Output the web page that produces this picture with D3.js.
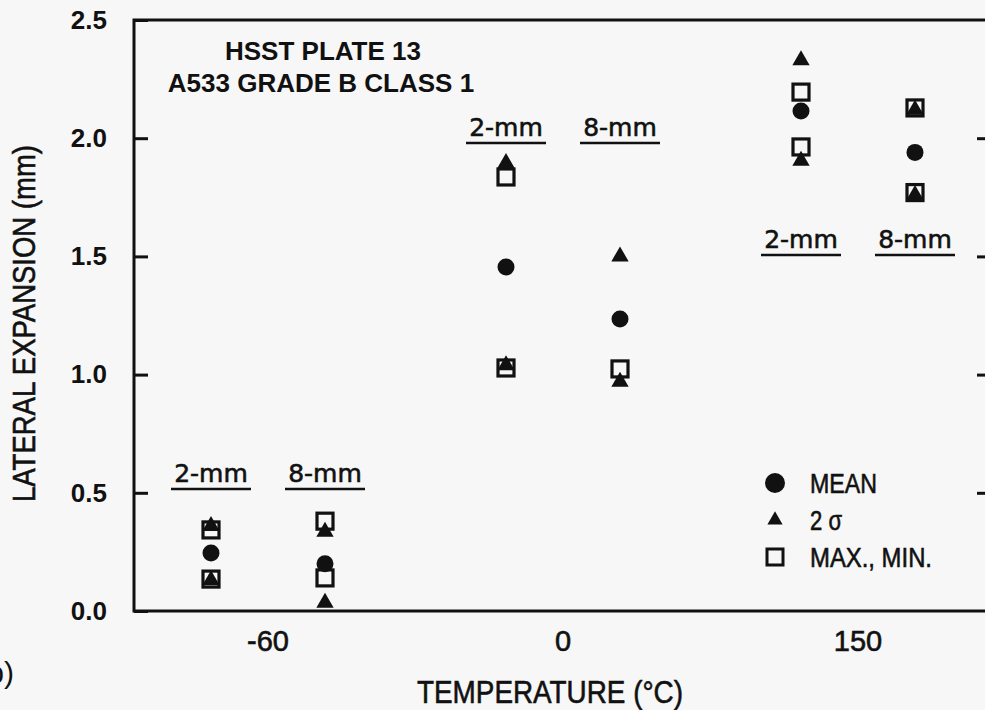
<!DOCTYPE html>
<html>
<head>
<meta charset="utf-8">
<script src="https://cdn.jsdelivr.net/npm/d3@7"></script>
<style>
  body { margin: 0; background: #f7f7f7; }
  svg { display: block; }
  text { fill: #111; }
  .narrow { font-family: "Liberation Sans Narrow", "Arial Narrow", "Liberation Sans", sans-serif; }
  .helv { font-family: "Liberation Sans", Arial, sans-serif; }
  .notch { font-family: "DejaVu Sans", sans-serif; font-size: 25px; }
  .heavy { stroke: #111; stroke-width: 0.6px; }
</style>
</head>
<body>
<svg id="chart" width="985" height="710"></svg>
<script>
const temps = ['-60', '0', '150'];
const notches = ['2-mm', '8-mm'];
// one pair per temperature: [2-mm, 8-mm]
const meanVals = [[0.245, 0.20], [1.455, 1.235], [2.115, 1.94]];
const sigmaHigh = [[0.36, 0.335], [1.895, 1.50], [2.33, 2.12]];
const sigmaLow = [[0.13, 0.035], [1.04, 0.97], [1.905, 1.76]];
const maxVals = [[0.343, 0.38], [1.836, null], [2.195, 2.128]];
const minVals = [[0.135, 0.14], [1.028, 1.024], [1.963, 1.77]];
// height (mm) of the underlined 2-mm / 8-mm captions
const captionLevel = [0.516, 1.98, 1.506];
const yTicks = [0, 0.5, 1.0, 1.5, 2.0, 2.5];
const legendItems = ['MEAN', '2 σ', 'MAX., MIN.'];

const svg = d3.select('#chart');

const plotL = 134, plotT = 20, plotB = 611, plotR = 991;

const y = d3.scaleLinear()
  .domain([0, 2.5])
  .range([plotB, plotT]);

const x = d3.scaleBand()
  .domain(temps)
  .range([120.5, 1005.5])
  .paddingInner(0);

const xi = d3.scalePoint()
  .domain(notches)
  .range([-57, 57]);

const px = (t, n) => x(t) + x.bandwidth() / 2 + xi(n);

// flatten the arrays into points
function toPoints(arr) {
  const out = [];
  temps.forEach((t, i) => notches.forEach((n, j) => {
    if (arr[i][j] != null) out.push({ t: t, n: n, v: arr[i][j] });
  }));
  return out;
}

// frame
svg.append('rect')
  .attr('x', plotL).attr('y', plotT)
  .attr('width', plotR - plotL).attr('height', plotB - plotT)
  .attr('fill', 'none')
  .attr('stroke', '#111')
  .attr('stroke-width', 3);

// left axis, ticks inward
const yAxis = svg.append('g')
  .attr('transform', `translate(${plotL},0)`)
  .call(d3.axisLeft(y).tickValues(yTicks).tickSize(-14).tickPadding(27).tickFormat(d3.format('.1f')));
yAxis.select('.domain').remove();
yAxis.selectAll('line').attr('stroke', '#111').attr('stroke-width', 3);
yAxis.selectAll('text')
  .attr('class', 'helv')
  .style('font-size', '26px')
  .style('font-weight', 'bold')
  .attr('fill', '#111');

// right axis, ticks only
const yAxisR = svg.append('g')
  .attr('transform', `translate(${plotR},0)`)
  .call(d3.axisRight(y).tickValues([0.5, 1.0, 1.5, 2.0]).tickSize(-14).tickFormat(''));
yAxisR.select('.domain').remove();
yAxisR.selectAll('line').attr('stroke', '#111').attr('stroke-width', 3);

// bottom axis labels
const xAxis = svg.append('g')
  .attr('transform', `translate(0,${plotB})`)
  .call(d3.axisBottom(x).tickSize(0).tickPadding(19));
xAxis.select('.domain').remove();
xAxis.selectAll('text')
  .attr('class', 'helv heavy')
  .style('font-size', '29px')
  .attr('fill', '#111');

// axis titles (squeezed to look like the condensed face of the original)
svg.append('text')
  .attr('class', 'narrow heavy')
  .attr('x', 417)
  .attr('y', 703)
  .attr('textLength', 266)
  .attr('lengthAdjust', 'spacingAndGlyphs')
  .style('font-size', '32px')
  .text('TEMPERATURE (°C)');

svg.append('text')
  .attr('class', 'narrow heavy')
  .attr('transform', 'translate(35,502) rotate(-90)')
  .attr('textLength', 357)
  .attr('lengthAdjust', 'spacingAndGlyphs')
  .style('font-size', '31px')
  .text('LATERAL EXPANSION (mm)');

svg.append('text')
  .attr('class', 'helv')
  .attr('x', 14)
  .attr('y', 683)
  .attr('text-anchor', 'end')
  .style('font-size', '30px')
  .text('(b)');

// plate title
svg.append('text')
  .attr('class', 'helv')
  .attr('x', 323)
  .attr('y', 60)
  .attr('text-anchor', 'middle')
  .style('font-size', '26px')
  .style('font-weight', 'bold')
  .text('HSST PLATE 13');

svg.append('text')
  .attr('class', 'helv')
  .attr('x', 321)
  .attr('y', 92)
  .attr('text-anchor', 'middle')
  .style('font-size', '26px')
  .style('font-weight', 'bold')
  .text('A533 GRADE B CLASS 1');

// underlined notch captions
const captions = [];
temps.forEach((t, i) => notches.forEach(n => captions.push({ t: t, n: n, v: captionLevel[i] })));

const capG = svg.append('g').selectAll('g')
  .data(captions)
  .enter()
  .append('g');

capG.append('text')
  .attr('class', 'notch heavy')
  .attr('x', d => px(d.t, d.n))
  .attr('y', d => y(d.v) - 7)
  .attr('text-anchor', 'middle')
  .text(d => d.n);

capG.append('line')
  .attr('x1', d => px(d.t, d.n) - 40)
  .attr('x2', d => px(d.t, d.n) + 40)
  .attr('y1', d => y(d.v))
  .attr('y2', d => y(d.v))
  .attr('stroke', '#111')
  .attr('stroke-width', 2.5);

// markers
const sq = 16;
const squares = toPoints(maxVals).concat(toPoints(minVals));
svg.append('g').selectAll('rect')
  .data(squares)
  .enter()
  .append('rect')
  .attr('x', d => px(d.t, d.n) - sq / 2)
  .attr('y', d => y(d.v) - sq / 2)
  .attr('width', sq)
  .attr('height', sq)
  .attr('fill', 'none')
  .attr('stroke', '#111')
  .attr('stroke-width', 3.2);

const tri = d3.symbol().type(d3.symbolTriangle).size(130);
const triangles = toPoints(sigmaHigh).concat(toPoints(sigmaLow));
svg.append('g').selectAll('path')
  .data(triangles)
  .enter()
  .append('path')
  .attr('d', tri)
  .attr('transform', d => `translate(${px(d.t, d.n)},${y(d.v)})`)
  .attr('fill', '#111');

svg.append('g').selectAll('circle')
  .data(toPoints(meanVals))
  .enter()
  .append('circle')
  .attr('cx', d => px(d.t, d.n))
  .attr('cy', d => y(d.v))
  .attr('r', 8.5)
  .attr('fill', '#111');

// legend
const lg = svg.append('g').attr('transform', 'translate(775,483)');
const rowH = 37;
const legWidths = [67, 32, 122];
lg.append('circle').attr('cx', 0).attr('cy', 0).attr('r', 10).attr('fill', '#111');
lg.append('path')
  .attr('d', d3.symbol().type(d3.symbolTriangle).size(100))
  .attr('transform', `translate(0,${rowH})`)
  .attr('fill', '#111');
lg.append('rect')
  .attr('x', -8).attr('y', rowH * 2 - 8)
  .attr('width', 16).attr('height', 16)
  .attr('fill', 'none')
  .attr('stroke', '#111')
  .attr('stroke-width', 3);

lg.selectAll('text.leg')
  .data(legendItems)
  .enter()
  .append('text')
  .attr('class', 'narrow heavy leg')
  .attr('x', 35)
  .attr('y', (d, i) => i * rowH + 10)
  .attr('textLength', (d, i) => legWidths[i])
  .attr('lengthAdjust', 'spacingAndGlyphs')
  .style('font-size', '28px')
  .text(d => d);
</script>
</body>
</html>
